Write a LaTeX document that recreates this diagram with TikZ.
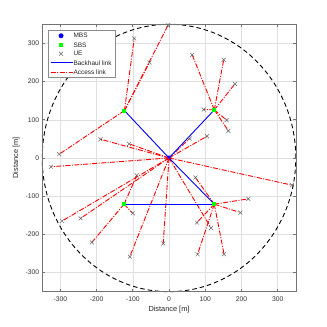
\documentclass[tikz,border=0pt]{standalone}
\usepackage{fontspec}
\setmainfont{Liberation Sans}
\usetikzlibrary{shapes.misc}

\pgfdeclarelayer{background}
\pgfdeclarelayer{links}
\pgfsetlayers{background,links,main}

\tikzset{
  gridline/.style={black!12, line width=0.5bp},
  axisbox/.style={black!55, line width=0.6bp},
  ticklabel/.style={font=\fontsize{6.8}{8}\selectfont, text=black!80, inner sep=0pt},
  axislabel/.style={font=\fontsize{7.4}{9}\selectfont, text=black!85, inner sep=0pt},
  coverage/.style={black, line width=0.9bp, dash pattern=on 4.5bp off 3bp},
  mbsnode/.style={circle, fill=blue, minimum size=5bp, inner sep=0pt},
  sbsnode/.style={rectangle, fill=green, minimum size=4bp, inner sep=0pt},
  uenode/.style={cross out, draw=black!60, line width=0.5bp, minimum size=3.4bp, inner sep=0pt},
  access/.style={red, line width=0.9bp, dash pattern=on 5bp off 1.5bp on 1bp off 1.5bp},
  backhaul/.style={blue, line width=0.9bp},
  legendbox/.style={draw=black!45, fill=white, line width=0.5bp, inner sep=0pt},
  keytext/.style={font=\fontsize{6.5}{8}\selectfont, text=black!85, anchor=west, inner sep=0pt}
}

\begin{document}
\begin{tikzpicture}[x=0.3623bp,y=0.382bp]
\useasboundingbox (-466.5,-442.4) rectangle (436.1,413.6);

% grid and coverage area
\begin{pgfonlayer}{background}
\foreach \v in {-300,-200,...,300} {
  \draw[gridline] (\v,-350) -- (\v,350);
  \draw[gridline] (-350,\v) -- (350,\v);
}
\draw[coverage] (0,0) ellipse [x radius=350, y radius=350];
\node[mbsnode] (mbs) at (0,0) {};
\end{pgfonlayer}

% base stations
\node[sbsnode] (sbsA) at (-123,124) {};
\node[sbsnode] (sbsB) at (125,126) {};
\node[sbsnode] (sbsC) at (125,-121) {};
\node[sbsnode] (sbsD) at (-124,-121) {};

% users
\node[uenode] (ue1) at (-96,313) {};
\node[uenode] (ue2) at (-54,250) {};
\node[uenode] (ue3) at (-3,347) {};
\node[uenode] (ue4) at (-303,10) {};
\node[uenode] (ue5) at (64,270) {};
\node[uenode] (ue6) at (151,257) {};
\node[uenode] (ue7) at (182,194) {};
\node[uenode] (ue8) at (96,127) {};
\node[uenode] (ue9) at (159,99) {};
\node[uenode] (ue10) at (164,71) {};
\node[uenode] (ue11) at (73,-51) {};
\node[uenode] (ue12) at (219,-107) {};
\node[uenode] (ue13) at (197,-143) {};
\node[uenode] (ue14) at (77,-169) {};
\node[uenode] (ue15) at (79,-252) {};
\node[uenode] (ue16) at (152,-252) {};
\node[uenode] (ue17) at (-89,-46) {};
\node[uenode] (ue18) at (-100,-145) {};
\node[uenode] (ue19) at (-213,-221) {};
\node[uenode] (ue20) at (-189,49) {};
\node[uenode] (ue21) at (-110,37) {};
\node[uenode] (ue22) at (-326,-23) {};
\node[uenode] (ue23) at (105,57) {};
\node[uenode] (ue24) at (57,51) {};
\node[uenode] (ue25) at (339,-71) {};
\node[uenode] (ue26) at (116,-183) {};
\node[uenode] (ue27) at (-295,-165) {};
\node[uenode] (ue28) at (-244,-158) {};
\node[uenode] (ue29) at (-108,-258) {};
\node[uenode] (ue30) at (-16,-224) {};

% access and backhaul links
\begin{pgfonlayer}{links}
\draw[access] (sbsA.center) -- (ue1.center);
\draw[access] (sbsA.center) -- (ue2.center);
\draw[access] (sbsA.center) -- (ue3.center);
\draw[access] (sbsA.center) -- (ue4.center);
\draw[access] (sbsB.center) -- (ue5.center);
\draw[access] (sbsB.center) -- (ue6.center);
\draw[access] (sbsB.center) -- (ue7.center);
\draw[access] (sbsB.center) -- (ue8.center);
\draw[access] (sbsB.center) -- (ue9.center);
\draw[access] (sbsB.center) -- (ue10.center);
\draw[access] (sbsC.center) -- (ue11.center);
\draw[access] (sbsC.center) -- (ue12.center);
\draw[access] (sbsC.center) -- (ue13.center);
\draw[access] (sbsC.center) -- (ue14.center);
\draw[access] (sbsC.center) -- (ue15.center);
\draw[access] (sbsC.center) -- (ue16.center);
\draw[access] (sbsD.center) -- (ue17.center);
\draw[access] (sbsD.center) -- (ue18.center);
\draw[access] (sbsD.center) -- (ue19.center);
\draw[access] (mbs.center) -- (ue20.center);
\draw[access] (mbs.center) -- (ue21.center);
\draw[access] (mbs.center) -- (ue22.center);
\draw[access] (mbs.center) -- (ue23.center);
\draw[access] (mbs.center) -- (ue24.center);
\draw[access] (mbs.center) -- (ue25.center);
\draw[access] (mbs.center) -- (ue26.center);
\draw[access] (mbs.center) -- (ue27.center);
\draw[access] (mbs.center) -- (ue28.center);
\draw[access] (mbs.center) -- (ue29.center);
\draw[access] (mbs.center) -- (ue30.center);

\draw[backhaul] (mbs.center) -- (sbsA.center);
\draw[backhaul] (mbs.center) -- (sbsB.center);
\draw[backhaul] (mbs.center) -- (sbsC.center);
\draw[backhaul] (sbsC.center) -- (sbsD.center);
\end{pgfonlayer}

% axes
\draw[axisbox] (-350,-350) rectangle (350,350);
\foreach \v in {-300,-200,...,300} {
  \draw[axisbox] (\v,-350) -- (\v,-343.5);
  \draw[axisbox] (\v,350) -- (\v,343.5);
  \draw[axisbox] (-350,\v) -- (-343,\v);
  \draw[axisbox] (350,\v) -- (343,\v);
  \node[ticklabel] at (\v,-370) {\v};
  \node[ticklabel, anchor=east] at (-358,\v) {\v};
}
\node[axislabel] (xlabel) at (0,-396) {Distance [m]};
\node[axislabel, rotate=90] (ylabel) at (-422,0) {Distance [m]};

% legend
\node[legendbox, anchor=north west, minimum width=67bp, minimum height=47.3bp] (legend) at (-333,335) {};
\node[mbsnode] (keymbs) at (-298,320) {};
\node[keytext] at (-264,320) {MBS};
\node[sbsnode] (keysbs) at (-298,296) {};
\node[keytext] at (-264,296) {SBS};
\node[uenode] (keyue) at (-298,273) {};
\node[keytext] at (-264,273) {UE};
\draw[backhaul] (-326,249) -- (-266,249);
\node[keytext] at (-264,249) {Backhaul link};
\draw[access] (-326,224) -- (-266,224);
\node[keytext] at (-264,224) {Access link};
\end{tikzpicture}
\end{document}
